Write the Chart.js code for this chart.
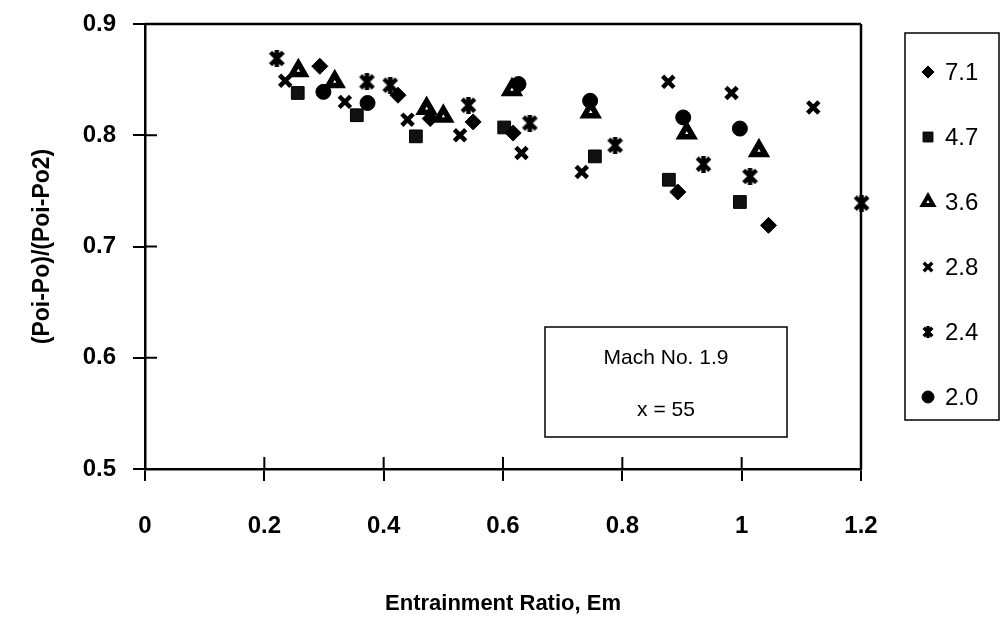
<!DOCTYPE html>
<html>
<head>
<meta charset="utf-8">
<script src="https://cdn.jsdelivr.net/npm/chart.js@4.4.1/dist/chart.umd.min.js"></script>
<style>
  html, body { margin: 0; padding: 0; background: #ffffff; }
  canvas { display: block; }
</style>
</head>
<body>
<canvas id="chart" width="1002" height="643"></canvas>
<script>
// Series labels (nozzle pressure ratio groups)
const seriesLabels = ['7.1', '4.7', '3.6', '2.8', '2.4', '2.0'];

// Entrainment ratio (x) and pressure-recovery ratio (y) for each series
const em71 = [0.293, 0.424, 0.478, 0.550, 0.617, 0.893, 1.045];
const pr71 = [0.862, 0.836, 0.815, 0.812, 0.802, 0.749, 0.719];

const em47 = [0.256, 0.355, 0.454, 0.602, 0.754, 0.878, 0.997];
const pr47 = [0.838, 0.818, 0.799, 0.807, 0.781, 0.760, 0.740];

const em36 = [0.257, 0.318, 0.472, 0.500, 0.615, 0.747, 0.908, 1.029];
const pr36 = [0.858, 0.848, 0.824, 0.817, 0.841, 0.821, 0.802, 0.786];

const em28 = [0.235, 0.335, 0.440, 0.528, 0.631, 0.732, 0.877, 0.983, 1.120];
const pr28 = [0.849, 0.830, 0.814, 0.800, 0.784, 0.767, 0.848, 0.838, 0.825];

const em24 = [0.221, 0.372, 0.411, 0.542, 0.645, 0.788, 0.936, 1.014, 1.201];
const pr24 = [0.869, 0.848, 0.845, 0.827, 0.811, 0.791, 0.774, 0.763, 0.739];

const em20 = [0.299, 0.373, 0.626, 0.746, 0.902, 0.997];
const pr20 = [0.839, 0.829, 0.846, 0.831, 0.816, 0.806];

// Axis ticks
const xTicks = [0, 0.2, 0.4, 0.6, 0.8, 1, 1.2];
const yTicks = [0.5, 0.6, 0.7, 0.8, 0.9];

// Annotation and axis text
const noteLines = ['Mach No. 1.9', 'x = 55'];
const xTitle = 'Entrainment Ratio, Em';
const yTitle = '(Poi-Po)/(Poi-Po2)';

const FONT = "'Liberation Sans', Arial, Helvetica, sans-serif";

function pairs(xs, ys) { return xs.map((x, i) => ({ x: x, y: ys[i] })); }

// Asterisk-like marker: an X with a vertical stroke through it
function makeStar(size, lw) {
  const c = document.createElement('canvas');
  c.width = size; c.height = size;
  const g = c.getContext('2d');
  g.strokeStyle = '#000';
  g.lineWidth = lw;
  const m = lw / 2;
  g.beginPath();
  g.moveTo(m, m); g.lineTo(size - m, size - m);
  g.moveTo(size - m, m); g.lineTo(m, size - m);
  g.moveTo(size / 2, 0); g.lineTo(size / 2, size);
  g.stroke();
  return c;
}
const starBig = makeStar(17, 4.4);
const starSmall = makeStar(12, 3.4);

const styles = [
  { pointStyle: 'rectRot',  radius: 8,   bg: '#000', bw: 1,   legendRadius: 6, legendBw: 1 },
  { pointStyle: 'rect',     radius: 9,   bg: '#111', bw: 1,   legendRadius: 7, legendBw: 1 },
  { pointStyle: 'triangle', radius: 7.5, bg: '#fff', bw: 5.5, legendRadius: 6, legendBw: 4 },
  { pointStyle: 'crossRot', radius: 8,   bg: '#000', bw: 4.5, legendRadius: 6, legendBw: 3.4 },
  { pointStyle: starBig,    radius: 8,   bg: '#000', bw: 1,   legendRadius: 6, legendBw: 1, legendImg: starSmall },
  { pointStyle: 'circle',   radius: 7.5, bg: '#000', bw: 1,   legendRadius: 6, legendBw: 1 }
];

const seriesData = [
  pairs(em71, pr71), pairs(em47, pr47), pairs(em36, pr36),
  pairs(em28, pr28), pairs(em24, pr24), pairs(em20, pr20)
];

const datasets = seriesData.map((d, i) => ({
  label: seriesLabels[i],
  data: d,
  showLine: false,
  clip: false,
  pointStyle: styles[i].pointStyle,
  pointRadius: styles[i].radius,
  pointHoverRadius: styles[i].radius,
  pointBackgroundColor: styles[i].bg,
  pointBorderColor: '#000',
  pointBorderWidth: styles[i].bw
}));

// Plot frame: top and right sides plus the inward halves of the tick marks
const framePlugin = {
  id: 'frame',
  beforeDatasetsDraw(chart) {
    const { ctx, chartArea: a, scales } = chart;
    ctx.save();
    ctx.strokeStyle = '#000';
    ctx.lineWidth = 2.5;
    ctx.beginPath();
    ctx.moveTo(a.left, a.top); ctx.lineTo(a.right, a.top);
    ctx.moveTo(a.right, a.top); ctx.lineTo(a.right, a.bottom);
    ctx.stroke();
    ctx.lineWidth = 2;
    ctx.beginPath();
    xTicks.forEach(v => {
      const px = scales.x.getPixelForValue(v);
      ctx.moveTo(px, a.bottom); ctx.lineTo(px, a.bottom - 12);
    });
    yTicks.forEach(v => {
      const py = scales.y.getPixelForValue(v);
      ctx.moveTo(a.left, py); ctx.lineTo(a.left + 12, py);
    });
    ctx.stroke();
    ctx.restore();
  }
};

// Boxed legend at the right and the boxed note inside the plot
const boxesPlugin = {
  id: 'boxes',
  afterDraw(chart) {
    const { ctx } = chart;
    ctx.save();
    ctx.strokeStyle = '#000';
    ctx.lineWidth = 1.5;
    ctx.strokeRect(905, 33, 94, 387);
    ctx.textBaseline = 'middle';
    ctx.textAlign = 'left';
    chart.data.datasets.forEach((ds, i) => {
      const y = 72 + i * 65;
      const st = styles[i];
      ctx.fillStyle = st.bg;
      ctx.strokeStyle = '#000';
      ctx.lineWidth = st.legendBw;
      Chart.helpers.drawPoint(ctx, {
        pointStyle: st.legendImg || st.pointStyle,
        radius: st.legendRadius,
        borderWidth: st.legendBw,
        rotation: 0
      }, 928, y);
      ctx.fillStyle = '#000';
      ctx.font = '24px ' + FONT;
      ctx.fillText(ds.label, 945, y + 1);
    });

    ctx.lineWidth = 1.5;
    ctx.strokeStyle = '#000';
    ctx.fillStyle = '#fff';
    ctx.fillRect(545, 327, 242, 110);
    ctx.strokeRect(545, 327, 242, 110);
    ctx.fillStyle = '#000';
    ctx.font = '21px ' + FONT;
    ctx.textAlign = 'center';
    ctx.fillText(noteLines[0], 666, 358);
    ctx.fillText(noteLines[1], 666, 410);
    ctx.restore();
  }
};

new Chart(document.getElementById('chart'), {
  type: 'scatter',
  data: { datasets: datasets },
  plugins: [framePlugin, boxesPlugin],
  options: {
    responsive: false,
    animation: false,
    events: [],
    layout: { padding: { left: 0, top: 24, right: 141, bottom: 0 } },
    plugins: {
      legend: { display: false },
      tooltip: { enabled: false },
      title: { display: false }
    },
    scales: {
      x: {
        type: 'linear',
        min: 0, max: 1.2,
        afterFit(scale) {
          scale.height = 174;
          scale.paddingLeft = 0; scale.paddingRight = 0;
        },
        afterBuildTicks(scale) { scale.ticks = xTicks.map(v => ({ value: v })); },
        border: { display: true, color: '#000', width: 2.5 },
        grid: { display: true, drawOnChartArea: false, drawTicks: true, tickLength: 12, color: '#000', lineWidth: 2 },
        ticks: {
          color: '#000',
          padding: 31,
          maxRotation: 0,
          font: { family: FONT, size: 24, weight: 'bold' },
          callback: v => String(Math.round(v * 10) / 10)
        },
        title: {
          display: true,
          text: xTitle,
          color: '#000',
          font: { family: FONT, size: 22, weight: 'bold' },
          padding: { top: 0, bottom: 26 }
        }
      },
      y: {
        type: 'linear',
        min: 0.5, max: 0.9,
        afterFit(scale) {
          scale.width = 145;
          scale.paddingTop = 0; scale.paddingBottom = 0;
        },
        afterBuildTicks(scale) { scale.ticks = yTicks.map(v => ({ value: v })); },
        border: { display: true, color: '#000', width: 2.5 },
        grid: { display: true, drawOnChartArea: false, drawTicks: true, tickLength: 12, color: '#000', lineWidth: 2 },
        ticks: {
          color: '#000',
          padding: 17,
          font: { family: FONT, size: 24, weight: 'bold' },
          callback: v => v.toFixed(1)
        },
        title: {
          display: true,
          text: yTitle,
          color: '#000',
          font: { family: FONT, size: 23, weight: 'bold' },
          padding: { top: 29, bottom: 0 }
        }
      }
    }
  }
});
</script>
</body>
</html>
